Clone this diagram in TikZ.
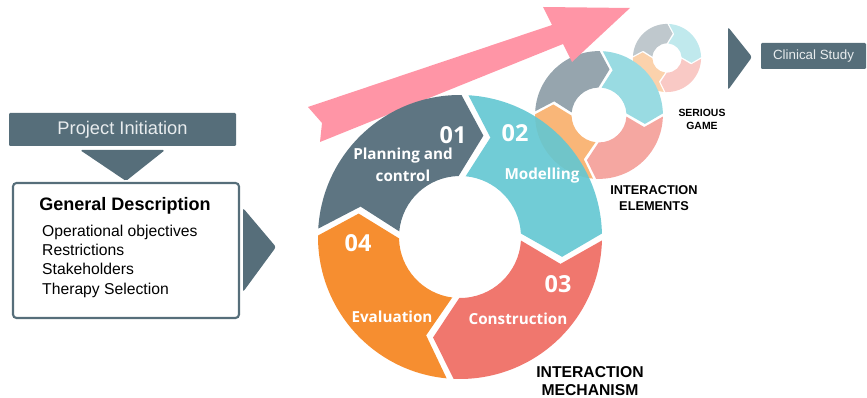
\documentclass[tikz,border=0pt]{standalone}
\usepackage{fontspec}
\setmainfont{Liberation Sans}
\newfontfamily\ringfont{Open Sans}
\usetikzlibrary{positioning, fit}

\definecolor{slate}{RGB}{86,110,122}
\definecolor{segplan}{RGB}{94,117,130}
\definecolor{segmodel}{RGB}{98,199,210}
\definecolor{segbuild}{RGB}{240,119,110}
\definecolor{segeval}{RGB}{246,142,48}
\definecolor{trend}{RGB}{255,149,166}
\definecolor{paletext}{RGB}{232,236,238}

% one arrow-shaped quarter of a cycle ring (angles run clockwise)
\newcommand{\ringpart}[3]{%
  \fill[#3] ({#1+1.4}:142) arc[start angle={#1+1.4}, end angle={#2-1.4}, radius=142]
    -- ({#2+11}:104) -- ({#2-3.3}:61)
    arc[start angle={#2-3.3}, end angle={#1+3.3}, radius=61]
    -- ({#1+15}:104) -- cycle;}

\begin{document}
\begin{tikzpicture}[
    x=0.3mm, y=-0.3mm,
    every node/.style={inner sep=0pt},
    slatebox/.style={fill=slate, rounded corners=1pt, inner sep=0pt},
    descbox/.style={draw=slate, line width=1.8pt, rounded corners=3pt, inner sep=0pt},
    boxtext/.style={text=paletext, font=\fontsize{15.6}{18}\selectfont},
    desctitle/.style={font=\bfseries\fontsize{15.4}{18}\selectfont},
    desclist/.style={align=left, font=\fontsize{13.4}{16.5}\selectfont},
    ringnum/.style={text=white, font=\ringfont\bfseries\fontsize{20}{24}\selectfont},
    ringlab/.style={text=white, align=center, font=\ringfont\bfseries\fontsize{13}{18.5}\selectfont},
    caption/.style={align=center, font=\bfseries\fontsize{13.4}{15.5}\selectfont},
]
\useasboundingbox (0,0) rectangle (867,398);

% ===== LEFT: project initiation =====
\node[slatebox, fit={(9,113) (236,146)}] (init) {};
\node[boxtext] (init-text) at (init.center) {Project Initiation};
\fill[slate, rounded corners=1.5pt] (80,150) -- (165,150) -- (126,181) -- cycle;

\node[descbox, fit={(13,183) (239,318)}] (desc) {};
\node[desctitle] (desc-title) at (125,206) {General Description};
\node[desclist, anchor=west] (desc-list) at (42,261)
    {Operational objectives\\Restrictions\\Stakeholders\\Therapy Selection};

\fill[slate, rounded corners=2pt] (243,208) -- (276,247) -- (243,292) -- cycle;

% ===== small rings (serious game, interaction elements) =====
\begin{scope}[shift={(667,58)}, scale=0.24]
\foreach \a/\b/\c in {182/272/segplan, 272/360/segmodel, 0/94/segbuild, 94/182/segeval}
    {\ringpart{\a}{\b}{fill=\c!40}}
\end{scope}
\begin{scope}[shift={(599,115)}, scale=0.45]
\foreach \a/\b/\c in {182/272/segplan, 272/360/segmodel, 0/94/segbuild, 94/182/segeval}
    {\ringpart{\a}{\b}{fill=\c!65}}
\end{scope}

% ===== trend arrow =====
\fill[trend] (308,107) -- (322,123) -- (320,142) -- (563,44) -- (572,62)
    -- (630,8) -- (543,7) -- (552,25) -- cycle;

% ===== main ring =====
\begin{scope}[shift={(460,237)}]
\ringpart{182}{272}{fill=segplan}
\ringpart{272}{360}{fill=segmodel, fill opacity=0.9}
\ringpart{0}{94}{fill=segbuild}
\ringpart{94}{182}{fill=segeval}
\end{scope}

\node[ringnum] (n01) at (453,135) {01};
\node[ringlab] (l01) at (403,165) {Planning and\\control};
\node[ringnum] (n02) at (515,133) {02};
\node[ringlab] (l02) at (542,176) {Modelling};
\node[ringnum] (n03) at (558,284) {03};
\node[ringlab] (l03) at (518,319) {Construction};
\node[ringnum] (n04) at (358,243) {04};
\node[ringlab] (l04) at (392,317) {Evaluation};

% ===== captions =====
\node[caption] (mech) at (590,381) {INTERACTION\\MECHANISM};
\node[caption, font=\bfseries\fontsize{10.9}{13.7}\selectfont] (elem) at (654,198)
    {INTERACTION\\ELEMENTS};
\node[caption, font=\bfseries\fontsize{8.9}{11}\selectfont] (game) at (702,119)
    {SERIOUS\\GAME};

% ===== RIGHT: clinical study =====
\fill[slate, rounded corners=2pt] (728,27) -- (752,57) -- (728,90) -- cycle;
\node[slatebox, fit={(761,43) (866,69)}] (clinical) {};
\node[boxtext, font=\fontsize{11.4}{13}\selectfont] (clinical-text) at (clinical.center)
    {Clinical Study};
\end{tikzpicture}
\end{document}
